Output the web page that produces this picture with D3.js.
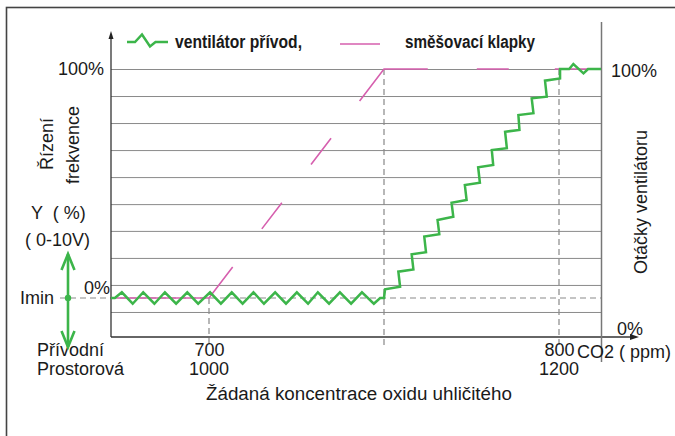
<!DOCTYPE html>
<html><head><meta charset="utf-8">
<script src="https://cdn.jsdelivr.net/npm/d3@7"></script>
<style>
html,body{margin:0;padding:0;background:#fff;}
text{font-family:"Liberation Sans",Arial,sans-serif;fill:#1a1a1a;white-space:pre;}
</style></head>
<body>
<svg id="c" width="675" height="436"></svg>
<script>
// ---- data ----
const xDomain = [672, 812];           // supply-air CO2 (ppm) across plot
const supplyTicks = [700, 800];       // Přívodní
const roomTicks = [1000, 1200];       // Prostorová
const markerLines = [700, 750, 800];  // dashed verticals
const gridValues = [100, 88.2, 76.4, 64.6, 52.8, 41.0, 29.3, 17.5, 5.7, -6.1];

// ventilátor přívod (green) - ppm / %
const fanX = [672,673.1,675.1,678.2,681.2,684.4,687.4,690.6,693.8,696.9,700.3,703.4,706.5,709.6,712.7,715.7,718.9,722,725.1,728.3,731.1,734.3,737.4,740.6,743.7,747.1,748.9,750,
  750.3,754.6,754.1,758.4,757.9,762,761.5,765.8,765.3,769.8,769.3,773.6,773.1,777.4,776.9,781.2,780.8,785.1,784.6,788.7,788.4,792.7,792.2,796.5,796,800.3,800.3,802.9,804.1,807,808.3,812];
const fanY = [0,0,2.5,-2.5,2.5,-2.5,2.5,-2.5,2.5,-2.5,2.5,-2.5,2.5,-2.5,2.5,-2.5,2.5,-2.5,2.5,-2.5,2.5,-2.5,2.5,-2.5,2.5,-2.5,0,0,
  3.8,4.9,11.5,12.5,19.1,20.0,26.8,27.9,34.1,35.5,41.6,42.8,49.3,50.3,57.1,58.1,64.6,65.4,72.6,73.4,79.9,80.7,87.2,87.9,94.9,95.9,100,100,102.2,98.1,100,100];

// směšovací klapky (pink)
const damperX = [672, 700, 750, 812];
const damperY = [0, 0, 100, 100];

const GREEN = "#3cb54a", PINK = "#d65fae";

const svg = d3.select("#c");
const x = d3.scaleLinear().domain(xDomain).range([111, 601]);
const y = d3.scaleLinear().domain([0, 100]).range([298, 69]);
const AXIS_Y = 337;

// outer frame
svg.append("rect").attr("x",6.5).attr("y",7.5).attr("width",720).attr("height",500)
  .attr("fill","none").attr("stroke","#444").attr("stroke-width",1.6);

// gridlines
const grid = svg.append("g").attr("transform","translate(111,0)")
  .call(d3.axisRight(y).tickValues(gridValues).tickSize(490).tickFormat(""));
grid.select(".domain").remove();
grid.selectAll("line").attr("stroke","#8a8a8a").attr("stroke-width",1);

// Imin dashed line
svg.append("line").attr("x1",60).attr("x2",x(xDomain[1])).attr("y1",y(0)).attr("y2",y(0))
  .attr("stroke","#8a8a8a").attr("stroke-width",1.2).attr("stroke-dasharray","6,4");

// vertical dashed markers
svg.selectAll("line.mk").data(markerLines).enter().append("line").attr("class","mk")
  .attr("x1",d=>x(d)).attr("x2",d=>x(d))
  .attr("y1",d=>d===700 ? y(0) : y(100)).attr("y2",345)
  .attr("stroke","#888").attr("stroke-width",1.2).attr("stroke-dasharray","6,4");

// axes
svg.append("line").attr("x1",111).attr("x2",111).attr("y1",36).attr("y2",AXIS_Y)
  .attr("stroke","#333").attr("stroke-width",1.3);
svg.append("path").attr("d","M111,31 L108.5,39 L113.5,39 Z").attr("fill","#222");
svg.append("line").attr("x1",111).attr("x2",632).attr("y1",AXIS_Y).attr("y2",AXIS_Y)
  .attr("stroke","#333").attr("stroke-width",1.3);
svg.append("path").attr("d","M639,337 L630,334 L630,340 Z").attr("fill","#222");
svg.append("line").attr("x1",601.5).attr("x2",601.5).attr("y1",22).attr("y2",362)
  .attr("stroke","#777").attr("stroke-width",1.5);

// pink damper line
svg.append("path")
  .attr("d", d3.line().x((d,i)=>x(damperX[i])).y((d,i)=>y(damperY[i]))(damperX))
  .attr("fill","none").attr("stroke",PINK).attr("stroke-width",1.6)
  .attr("stroke-dasharray","137 48 33 48 33 47 84 49 32 46 80");

// green fan line
svg.append("path")
  .attr("d", d3.line().x((d,i)=>x(fanX[i])).y((d,i)=>y(fanY[i]))(fanX))
  .attr("fill","none").attr("stroke",GREEN).attr("stroke-width",2.5).attr("stroke-linejoin","miter");

// x tick labels
const xa = svg.append("g").attr("transform",`translate(0,${AXIS_Y})`)
  .call(d3.axisBottom(x).tickValues(supplyTicks).tickSize(0).tickPadding(0).tickFormat(d3.format("d")));
xa.select(".domain").remove();
xa.selectAll("text").attr("font-size",18).attr("dy",null).attr("y",19)
  .style("font-family","Liberation Sans, Arial, sans-serif").attr("fill","#1a1a1a");
svg.selectAll("text.room").data(roomTicks).enter().append("text").attr("class","room")
  .attr("x",(d,i)=>x(supplyTicks[i])).attr("y",375).attr("text-anchor","middle")
  .attr("font-size",18).text(d=>d);

// texts
function t(str,xp,yp,opts={}){
  const e = svg.append("text").attr("x",xp).attr("y",yp).attr("font-size",opts.size||18).text(str);
  if(opts.anchor) e.attr("text-anchor",opts.anchor);
  if(opts.rot) e.attr("transform",`rotate(-90,${xp},${yp})`);
  if(opts.weight) e.attr("font-weight",opts.weight);
  if(opts.family) e.style("font-family",opts.family);
  if(opts.len) e.attr("textLength",opts.len).attr("lengthAdjust","spacingAndGlyphs");
  return e;
}
t("100%",104,75,{anchor:"end"});
t("0%",110,294,{anchor:"end"});
t("Imin",20,304);
t("Y  ( %)",31,219);
t("( 0-10V)",25,246);
t("Řízení",53,144,{anchor:"middle",rot:true});
t("frekvence",79,145,{anchor:"middle",rot:true});
t("Přívodní",37,356);
t("Prostorová",37,375);
t("Žádaná koncentrace oxidu uhličitého",206,400,{size:18.8});
t("CO2 ( ppm)",577,358);
t("100%",611,77);
t("0%",617,335);
t("Otáčky ventilátoru",647,202,{anchor:"middle",rot:true});

// green double arrow Imin
const ga = svg.append("g").attr("stroke",GREEN).attr("stroke-width",2.6).attr("fill","none");
ga.append("line").attr("x1",68).attr("x2",68).attr("y1",254).attr("y2",347);
ga.append("path").attr("d","M61.5,270 L68,254 L74.5,270");
ga.append("path").attr("d","M61.5,331 L68,347 L74.5,331");
svg.append("circle").attr("cx",68).attr("cy",y(0)).attr("r",3.2).attr("fill",GREEN);

// legend
svg.append("path").attr("d","M127,42 L135,42 L142,34.5 L150,46.5 L155.5,42 L168,42")
  .attr("fill","none").attr("stroke",GREEN).attr("stroke-width",2.5);
t("ventilátor přívod,",175,48,{size:18,weight:"bold",len:127});
svg.append("line").attr("x1",340).attr("x2",380).attr("y1",44).attr("y2",44)
  .attr("stroke",PINK).attr("stroke-width",1.6);
t("směšovací klapky",405,48,{size:18,weight:"bold",len:130});
</script>
</body></html>
